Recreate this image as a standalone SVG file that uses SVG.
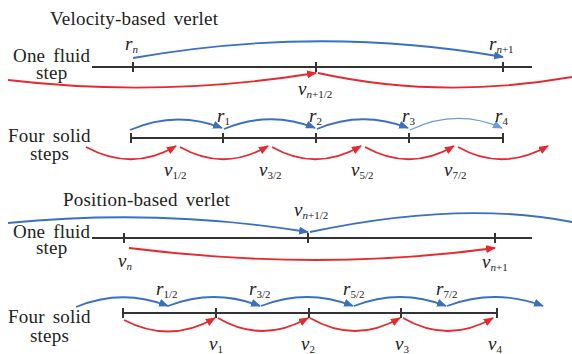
<svg xmlns="http://www.w3.org/2000/svg" width="572" height="354" viewBox="0 0 572 354">
<style>
.t{font-family:"Liberation Serif","Times New Roman",serif;font-size:19px;word-spacing:3px;letter-spacing:0.2px;fill:#222}
.v{font-family:"Liberation Serif","Times New Roman",serif;font-size:19px;font-style:italic;fill:#222}
.s{font-size:11px;font-style:normal}
.si{font-size:11px;font-style:italic}
.ax{stroke:#333;stroke-width:2;fill:none}
.b{stroke:#3b6fc0;stroke-width:1.8;fill:none;marker-end:url(#ab)}
.bl{stroke:#6b9be0;stroke-width:1.2;fill:none;marker-end:url(#abl)}
.r{stroke:#e52a2f;stroke-width:1.8;fill:none;marker-end:url(#ar)}
.rn{stroke:#e52a2f;stroke-width:1.8;fill:none}
.bn{stroke:#3b6fc0;stroke-width:1.8;fill:none}
</style>
<defs>
<marker id="ab" markerWidth="10" markerHeight="8" refX="9" refY="4" orient="auto" markerUnits="userSpaceOnUse"><path d="M0,0 L10,4 L0,8 Z" fill="#3b6fc0"/></marker>
<marker id="abl" markerWidth="10" markerHeight="8" refX="9" refY="4" orient="auto" markerUnits="userSpaceOnUse"><path d="M0,0 L10,4 L0,8 Z" fill="#6b9be0"/></marker>
<marker id="ar" markerWidth="10" markerHeight="8" refX="9" refY="4" orient="auto" markerUnits="userSpaceOnUse"><path d="M0,0 L10,4 L0,8 Z" fill="#e52a2f"/></marker>
</defs>

<g id="titles">
<text class="t" x="50" y="25">Velocity-based verlet</text>
<text class="t" x="63" y="206">Position-based verlet</text>
</g>

<g id="row1-label"><text class="t" x="13" y="62">One fluid</text><text class="t" x="36" y="79">step</text></g>
<g id="row2-label"><text class="t" x="8" y="142">Four solid</text><text class="t" x="30" y="160">steps</text></g>
<g id="row3-label"><text class="t" x="13" y="238">One fluid</text><text class="t" x="36" y="254">step</text></g>
<g id="row4-label"><text class="t" x="8" y="323">Four solid</text><text class="t" x="30" y="342">steps</text></g>

<g id="axes">
<path class="ax" d="M92,67 H532 M133,62 V72 M316,62 V72 M503,62 V72"/>
<path class="ax" d="M131,138 H503 M131,133 V143 M223,133 V143 M316,133 V143 M409,133 V143 M503,133 V143"/>
<path class="ax" d="M92,238 H532 M124,233 V243 M308,233 V243 M495,233 V243"/>
<path class="ax" d="M123,313 H497 M123,308 V318 M216,308 V318 M309,308 V318 M401,308 V318 M497,308 V318"/>
</g>

<g id="connectors">
<path class="b" d="M133,58 Q320,25 503,57"/>
<path class="r" d="M8,80 Q160,98 316,73"/>
<path class="rn" d="M318,73 Q440,100 572,77"/>
<path class="b" d="M130,130 Q176,110 222,128"/>
<path class="b" d="M224,129 Q270,110 315,128"/>
<path class="b" d="M317,129 Q362,110 408,128"/>
<path class="bl" d="M410,130 Q456,108 502,128"/>
<path class="r" d="M86,147 Q132,172 176,146"/>
<path class="r" d="M180,147 Q224,172 268,146"/>
<path class="r" d="M272,147 Q316,172 361,146"/>
<path class="r" d="M365,147 Q410,172 454,146"/>
<path class="r" d="M458,147 Q502,172 548,146"/>
<path class="b" d="M8,223 Q160,208 308,232"/>
<path class="bn" d="M310,232 Q460,200 572,222"/>
<path class="r" d="M129,248 Q320,272 495,248"/>
<path class="b" d="M76,307 Q122,288 168,306"/>
<path class="b" d="M168,306 Q214,288 260,306"/>
<path class="b" d="M261,306 Q307,288 353,306"/>
<path class="b" d="M354,306 Q400,288 446,306"/>
<path class="b" d="M447,306 Q495,288 543,306"/>
<path class="r" d="M124,320 Q170,344 215,318"/>
<path class="r" d="M218,318 Q262,344 308,318"/>
<path class="r" d="M310,318 Q355,344 400,318"/>
<path class="r" d="M403,318 Q448,344 493,318"/>
</g>

<g id="labels">
<text class="v" x="125" y="50">r<tspan class="si" dy="3">n</tspan></text>
<text class="v" x="489" y="50">r<tspan class="si" dy="3">n</tspan><tspan class="s">+1</tspan></text>
<text class="v" x="298" y="95">v<tspan class="si" dy="3">n</tspan><tspan class="s">+1/2</tspan></text>

<text class="v" x="217" y="122">r<tspan class="s" dy="3">1</tspan></text>
<text class="v" x="309" y="122">r<tspan class="s" dy="3">2</tspan></text>
<text class="v" x="402" y="122">r<tspan class="s" dy="3">3</tspan></text>
<text class="v" x="495" y="122">r<tspan class="s" dy="3">4</tspan></text>
<text class="v" x="164" y="176">v<tspan class="s" dy="3">1/2</tspan></text>
<text class="v" x="259" y="176">v<tspan class="s" dy="3">3/2</tspan></text>
<text class="v" x="351" y="176">v<tspan class="s" dy="3">5/2</tspan></text>
<text class="v" x="444" y="176">v<tspan class="s" dy="3">7/2</tspan></text>

<text class="v" x="294" y="216">v<tspan class="si" dy="3">n</tspan><tspan class="s">+1/2</tspan></text>
<text class="v" x="118" y="267">v<tspan class="si" dy="3">n</tspan></text>
<text class="v" x="482" y="268">v<tspan class="si" dy="3">n</tspan><tspan class="s">+1</tspan></text>

<text class="v" x="156" y="295">r<tspan class="s" dy="3">1/2</tspan></text>
<text class="v" x="249" y="295">r<tspan class="s" dy="3">3/2</tspan></text>
<text class="v" x="343" y="295">r<tspan class="s" dy="3">5/2</tspan></text>
<text class="v" x="436" y="295">r<tspan class="s" dy="3">7/2</tspan></text>
<text class="v" x="209" y="350">v<tspan class="s" dy="3">1</tspan></text>
<text class="v" x="301" y="350">v<tspan class="s" dy="3">2</tspan></text>
<text class="v" x="395" y="350">v<tspan class="s" dy="3">3</tspan></text>
<text class="v" x="488" y="350">v<tspan class="s" dy="3">4</tspan></text>
</g>
</svg>
